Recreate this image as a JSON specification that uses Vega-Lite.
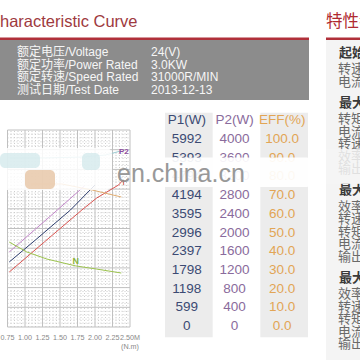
{
"$schema": "https://vega.github.io/schema/vega-lite/v6.json",
"width": 360, "height": 360, "autosize": "none", "padding": 0,
"background": "white",
"config": {"view": {"stroke": null}, "font": "Liberation Sans"},
"datasets": {
 "vmaj": [{"t":0.75},{"t":1},{"t":1.25},{"t":1.5},{"t":1.75},{"t":2},{"t":2.25},{"t":2.5}],
 "vmin": [{"t":0.8},{"t":0.85},{"t":0.9},{"t":0.95},{"t":1.05},{"t":1.1},{"t":1.15},{"t":1.2},{"t":1.3},{"t":1.35},{"t":1.4},{"t":1.45},{"t":1.55},{"t":1.6},{"t":1.65},{"t":1.7},{"t":1.8},{"t":1.85},{"t":1.9},{"t":1.95},{"t":2.05},{"t":2.1},{"t":2.15},{"t":2.2},{"t":2.3},{"t":2.35},{"t":2.4},{"t":2.45}],
 "hmaj": [{"v":0},{"v":1},{"v":2},{"v":3},{"v":4},{"v":5},{"v":6},{"v":7},{"v":8},{"v":9},{"v":10}],
 "hmin": [{"v":0.2},{"v":0.4},{"v":0.6},{"v":0.8},{"v":1.2},{"v":1.4},{"v":1.6},{"v":1.8},{"v":2.2},{"v":2.4},{"v":2.6},{"v":2.8},{"v":3.2},{"v":3.4},{"v":3.6},{"v":3.8},{"v":4.2},{"v":4.4},{"v":4.6},{"v":4.8},{"v":5.2},{"v":5.4},{"v":5.6},{"v":5.8},{"v":6.2},{"v":6.4},{"v":6.6},{"v":6.8},{"v":7.2},{"v":7.4},{"v":7.6},{"v":7.8},{"v":8.2},{"v":8.4},{"v":8.6},{"v":8.8},{"v":9.2},{"v":9.4},{"v":9.6},{"v":9.8}],
 "curves": [
  {"series":"P2","t":0.775,"v":8.58},{"series":"P2","t":1.275,"v":8.58},{"series":"P2","t":1.8375,"v":8.63},{"series":"P2","t":2.15,"v":8.73},{"series":"P2","t":2.3625,"v":8.93},
  {"series":"P1","t":0.775,"v":3.81},{"series":"P1","t":1.15,"v":4.97},{"series":"P1","t":1.4625,"v":5.94},{"series":"P1","t":1.85,"v":7.16},
  {"series":"T","t":0.775,"v":3.3},{"series":"T","t":1.15,"v":4.42},{"series":"T","t":1.65,"v":5.94},{"series":"T","t":2.0,"v":7.21},
  {"series":"I","t":0.775,"v":2.79},{"series":"I","t":1.275,"v":4.31},{"series":"I","t":1.8125,"v":5.94},{"series":"I","t":2.025,"v":6.55},{"series":"I","t":2.3375,"v":7.21},{"series":"I","t":2.4,"v":7.46},
  {"series":"N","t":0.775,"v":4.31},{"series":"N","t":1.025,"v":3.81},{"series":"N","t":1.3125,"v":3.45},{"series":"N","t":1.725,"v":3.1},{"series":"N","t":2.025,"v":2.94},{"series":"N","t":2.375,"v":2.74},
  {"series":"EFF","t":1.0875,"v":7.26},{"series":"EFF","t":1.525,"v":7.26},{"series":"EFF","t":1.9625,"v":6.95},{"series":"EFF","t":2.375,"v":6.6}
 ],
 "table": [
  {"P1(W)":5992,"P2(W)":4000,"EFF(%)":100},
  {"P1(W)":5393,"P2(W)":3600,"EFF(%)":90},
  {"P1(W)":4794,"P2(W)":3200,"EFF(%)":80},
  {"P1(W)":4194,"P2(W)":2800,"EFF(%)":70},
  {"P1(W)":3595,"P2(W)":2400,"EFF(%)":60},
  {"P1(W)":2996,"P2(W)":2000,"EFF(%)":50},
  {"P1(W)":2397,"P2(W)":1600,"EFF(%)":40},
  {"P1(W)":1798,"P2(W)":1200,"EFF(%)":30},
  {"P1(W)":1198,"P2(W)":800,"EFF(%)":20},
  {"P1(W)":599,"P2(W)":400,"EFF(%)":10},
  {"P1(W)":0,"P2(W)":0,"EFF(%)":0}
 ],
 "features": [
  {"line":0,"kind":"heading","text":"起始点"},
  {"line":1,"kind":"item","text":"转速"},
  {"line":2,"kind":"item","text":"电流"},
  {"line":4,"kind":"heading","text":"最大"},
  {"line":5,"kind":"item","text":"转矩"},
  {"line":6,"kind":"item","text":"电流"},
  {"line":7,"kind":"item","text":"转速"},
  {"line":8,"kind":"item","text":"效率"},
  {"line":9,"kind":"item","text":"输出"},
  {"line":11,"kind":"heading","text":"最大"},
  {"line":12,"kind":"item","text":"效率"},
  {"line":13,"kind":"item","text":"转速"},
  {"line":14,"kind":"item","text":"转矩"},
  {"line":15,"kind":"item","text":"电流"},
  {"line":16,"kind":"item","text":"输出"},
  {"line":18,"kind":"heading","text":"最大"},
  {"line":19,"kind":"item","text":"效率"},
  {"line":20,"kind":"item","text":"转速"},
  {"line":21,"kind":"item","text":"转矩"},
  {"line":22,"kind":"item","text":"电流"},
  {"line":23,"kind":"item","text":"输出"}
 ]
},
"resolve": {"scale": {"x": "independent", "y": "independent", "color": "independent"}, "axis": {"x": "independent", "y": "independent"}},
"layer": [
 {
  "data": {"values": [{}]},
  "layer": [
   {"mark": {"type": "rect", "color": "#f4f4f4"},
    "encoding": {"x": {"datum": 326, "type": "quantitative", "scale": {"domain": [0,360], "range": [0,360]}, "axis": null}, "x2": {"datum": 360},
                 "y": {"datum": 40, "type": "quantitative", "scale": {"domain": [0,360], "range": [0,360]}, "axis": null}, "y2": {"datum": 360}}},
   {"mark": {"type": "rect", "color": "#8c8c8c"},
    "encoding": {"x": {"datum": 0, "type": "quantitative", "scale": {"domain": [0,360], "range": [0,360]}, "axis": null}, "x2": {"datum": 309},
                 "y": {"datum": 40, "type": "quantitative", "scale": {"domain": [0,360], "range": [0,360]}, "axis": null}, "y2": {"datum": 100}}},
   {"mark": {"type": "rect", "color": "#b0303a"},
    "encoding": {"x": {"datum": 0, "type": "quantitative", "scale": {"domain": [0,360], "range": [0,360]}, "axis": null}, "x2": {"datum": 309},
                 "y": {"datum": 37.5, "type": "quantitative", "scale": {"domain": [0,360], "range": [0,360]}, "axis": null}, "y2": {"datum": 40}}},
   {"mark": {"type": "rect", "color": "#b0303a"},
    "encoding": {"x": {"datum": 326, "type": "quantitative", "scale": {"domain": [0,360], "range": [0,360]}, "axis": null}, "x2": {"datum": 360},
                 "y": {"datum": 37.5, "type": "quantitative", "scale": {"domain": [0,360], "range": [0,360]}, "axis": null}, "y2": {"datum": 40}}}
  ]
 },
 {
  "layer": [
   {"data": {"name": "vmin"}, "mark": {"type": "rule", "stroke": "#cdcdcd", "strokeWidth": 1, "strokeDash": [1,2]},
    "encoding": {"x": {"field": "t", "type": "quantitative", "scale": {"domain": [0.75,2.5], "range": [-3,137]}, "axis": null},
                 "y": {"datum": 0, "type": "quantitative", "scale": {"domain": [0,10], "range": [327,130]}, "axis": null}, "y2": {"datum": 10}}},
   {"data": {"name": "hmin"}, "mark": {"type": "rule", "stroke": "#cdcdcd", "strokeWidth": 1, "strokeDash": [1,2]},
    "encoding": {"y": {"field": "v", "type": "quantitative", "axis": null}, "x": {"datum": 0.75, "type": "quantitative", "axis": null}, "x2": {"datum": 2.5}}},
   {"data": {"name": "vmaj"}, "mark": {"type": "rule", "stroke": "#c0c0c0", "strokeWidth": 1},
    "encoding": {"x": {"field": "t", "type": "quantitative", "axis": null}, "y": {"datum": 0, "type": "quantitative", "axis": null}, "y2": {"datum": 10}}},
   {"data": {"name": "hmaj"}, "mark": {"type": "rule", "stroke": "#c0c0c0", "strokeWidth": 1},
    "encoding": {"y": {"field": "v", "type": "quantitative", "axis": null}, "x": {"datum": 0.75, "type": "quantitative", "axis": null}, "x2": {"datum": 2.5}}},
   {"data": {"name": "curves"}, "mark": {"type": "line", "strokeWidth": 1},
    "encoding": {"x": {"field": "t", "type": "quantitative", "axis": null}, "y": {"field": "v", "type": "quantitative", "axis": null},
                 "color": {"field": "series", "type": "nominal", "scale": {"domain": ["P2","P1","T","I","N","EFF"], "range": ["#9fcdd4","#c286c9","#2f3f6f","#d9534f","#9cc34e","#e1ad72"]}, "legend": null}}},
   {"data": {"name": "vmaj"},
    "transform": [{"calculate": "datum.t == 2.5 ? '2.50M' : format(datum.t, '.2f')", "as": "lab"}],
    "mark": {"type": "text", "fontSize": 7.2, "color": "#888888", "baseline": "middle"},
    "encoding": {"x": {"field": "t", "type": "quantitative", "axis": null}, "y": {"datum": -0.55, "type": "quantitative", "axis": null}, "text": {"field": "lab"}}},
   {"data": {"values": [{"unit": "(N.m)"}]}, "mark": {"type": "text", "fontSize": 7.2, "color": "#888888", "baseline": "middle"},
    "encoding": {"x": {"datum": 2.5, "type": "quantitative", "axis": null}, "y": {"datum": -1.02, "type": "quantitative", "axis": null}, "text": {"field": "unit"}}},
   {"data": {"values": [{"label": "P2"}]}, "mark": {"type": "text", "fontSize": 8, "fontWeight": "bold", "color": "#8e4fa0", "baseline": "middle"},
    "encoding": {"x": {"datum": 2.4125, "type": "quantitative", "axis": null}, "y": {"datum": 8.88, "type": "quantitative", "axis": null}, "text": {"field": "label"}}},
   {"data": {"values": [{"label": "I"}]}, "mark": {"type": "text", "fontSize": 8, "color": "#c0392b", "baseline": "middle"},
    "encoding": {"x": {"datum": 2.41, "type": "quantitative", "axis": null}, "y": {"datum": 7.3, "type": "quantitative", "axis": null}, "text": {"field": "label"}}},
   {"data": {"values": [{"label": "N"}]}, "mark": {"type": "text", "fontSize": 9, "fontWeight": "bold", "color": "#8cb43c", "baseline": "middle"},
    "encoding": {"x": {"datum": 1.725, "type": "quantitative", "axis": null}, "y": {"datum": 3.35, "type": "quantitative", "axis": null}, "text": {"field": "label"}}}
  ]
 },
 {
  "data": {"name": "table"},
  "transform": [
   {"fold": ["P1(W)","P2(W)","EFF(%)"], "as": ["col","num"]},
   {"calculate": "datum.col == 'EFF(%)' ? format(datum.num, '.1f') : format(datum.num, 'd')", "as": "txt"}
  ],
  "layer": [
   {"transform": [{"filter": "datum['EFF(%)'] == 100 && datum.col != 'P2(W)'"}],
    "mark": {"type": "rect", "color": "#ececec"},
    "encoding": {"x": {"field": "col", "type": "nominal", "scale": {"type": "band", "domain": ["P1(W)","P2(W)","EFF(%)"], "range": [165,308], "paddingInner": 0, "paddingOuter": 0}, "axis": null},
                 "y": {"datum": 114, "type": "quantitative", "scale": {"domain": [100,0], "range": [139,326]}, "axis": null}, "y2": {"datum": -6}}},
   {"transform": [{"filter": "datum['EFF(%)'] == 100"}],
    "mark": {"type": "text", "fontSize": 13.5, "baseline": "middle", "dx": -2},
    "encoding": {"x": {"field": "col", "type": "nominal", "axis": null}, "y": {"datum": 110, "type": "quantitative", "axis": null}, "text": {"field": "col"},
                 "color": {"field": "col", "type": "nominal", "scale": {"domain": ["P1(W)","P2(W)","EFF(%)"], "range": ["#3b4a73","#8a6b9c","#e2a555"]}, "legend": null}}},
   {"mark": {"type": "text", "fontSize": 13.5, "baseline": "middle", "dx": -2},
    "encoding": {"x": {"field": "col", "type": "nominal", "axis": null}, "y": {"field": "EFF(%)", "type": "quantitative", "axis": null}, "text": {"field": "txt"},
                 "color": {"field": "col", "type": "nominal", "legend": null}}}
  ]
 },
 {
  "data": {"name": "features"},
  "encoding": {"x": {"field": "kind", "type": "nominal", "scale": {"type": "point", "domain": ["heading","item"], "range": [339,338], "padding": 0}, "axis": null},
               "y": {"field": "line", "type": "quantitative", "scale": {"domain": [0,23], "range": [56.5,344]}, "axis": null},
               "text": {"field": "text"}},
  "layer": [
   {"transform": [{"filter": "datum.kind == 'heading'"}], "mark": {"type": "text", "align": "left", "baseline": "middle", "fontSize": 13, "fontWeight": "bold", "color": "#3a3a3a", "dy": -4, "font": "Liberation Sans, Noto Sans CJK SC"}},
   {"transform": [{"filter": "datum.kind == 'item'"}], "mark": {"type": "text", "align": "left", "baseline": "middle", "fontSize": 13, "color": "#6a6a6a", "font": "Liberation Sans, Noto Sans CJK SC"}}
  ]
 },
 {
  "data": {"values": [
   {"label": "额定电压/Voltage", "value": "24(V)"},
   {"label": "额定功率/Power Rated", "value": "3.0KW"},
   {"label": "额定转速/Speed Rated", "value": "31000R/MIN"},
   {"label": "测试日期/Test Date", "value": "2013-12-13"}
  ]},
  "transform": [{"fold": ["label","value"], "as": ["col","text"]}],
  "mark": {"type": "text", "align": "left", "baseline": "middle", "fontSize": 12, "color": "#f6f6f6", "font": "Liberation Sans, Noto Sans CJK SC"},
  "encoding": {
   "x": {"field": "col", "type": "nominal", "scale": {"type": "point", "domain": ["label","value"], "range": [17,151], "padding": 0}, "axis": null},
   "y": {"field": "label", "type": "nominal", "scale": {"type": "point", "domain": ["额定电压/Voltage","额定功率/Power Rated","额定转速/Speed Rated","测试日期/Test Date"], "range": [52,90], "padding": 0}, "axis": null},
   "text": {"field": "text"}
  }
 },
 {
  "data": {"values": [
   {"part": "curve", "heading": "haracteristic Curve"},
   {"part": "feature", "heading": "特性参数"}
  ]},
  "mark": {"type": "text", "align": "left", "baseline": "alphabetic", "fontSize": 16.5, "font": "Liberation Sans, Noto Sans CJK SC"},
  "encoding": {
   "x": {"field": "part", "type": "nominal", "scale": {"type": "point", "domain": ["curve","feature"], "range": [0,326], "padding": 0}, "axis": null},
   "y": {"field": "part", "type": "nominal", "scale": {"type": "point", "domain": ["curve","feature"], "range": [27,27], "padding": 0}, "axis": null},
   "color": {"field": "part", "type": "nominal", "scale": {"domain": ["curve","feature"], "range": ["#9e3a40","#b02a31"]}, "legend": null},
   "text": {"field": "heading"}
  }
 },
 {
  "data": {"values": [{"mark": "en.china.cn"}]},
  "layer": [
   {"mark": {"type": "rect", "color": "white", "opacity": 0.85, "cornerRadius": 6},
    "encoding": {"x": {"datum": 0, "type": "quantitative", "scale": {"domain": [0,360], "range": [0,360]}, "axis": null}, "x2": {"datum": 112},
                 "y": {"datum": 148, "type": "quantitative", "scale": {"domain": [0,360], "range": [0,360]}, "axis": null}, "y2": {"datum": 190}}},
   {"mark": {"type": "rect", "color": "#cfe7ea", "opacity": 0.7, "cornerRadius": 5},
    "encoding": {"x": {"datum": 0, "type": "quantitative", "scale": {"domain": [0,360], "range": [0,360]}, "axis": null}, "x2": {"datum": 40},
                 "y": {"datum": 153, "type": "quantitative", "scale": {"domain": [0,360], "range": [0,360]}, "axis": null}, "y2": {"datum": 168}}},
   {"mark": {"type": "rect", "color": "#cfe7ea", "opacity": 0.7, "cornerRadius": 5},
    "encoding": {"x": {"datum": 82, "type": "quantitative", "scale": {"domain": [0,360], "range": [0,360]}, "axis": null}, "x2": {"datum": 100},
                 "y": {"datum": 153, "type": "quantitative", "scale": {"domain": [0,360], "range": [0,360]}, "axis": null}, "y2": {"datum": 170}}},
   {"mark": {"type": "rect", "color": "#e6c4a4", "opacity": 0.8, "cornerRadius": 5},
    "encoding": {"x": {"datum": 25, "type": "quantitative", "scale": {"domain": [0,360], "range": [0,360]}, "axis": null}, "x2": {"datum": 55},
                 "y": {"datum": 170, "type": "quantitative", "scale": {"domain": [0,360], "range": [0,360]}, "axis": null}, "y2": {"datum": 189}}},
   {"mark": {"type": "rect", "color": "white", "opacity": 0.92, "cornerRadius": 6},
    "encoding": {"x": {"datum": 148, "type": "quantitative", "scale": {"domain": [0,360], "range": [0,360]}, "axis": null}, "x2": {"datum": 312},
                 "y": {"datum": 157.5, "type": "quantitative", "scale": {"domain": [0,360], "range": [0,360]}, "axis": null}, "y2": {"datum": 187}}},
   {"mark": {"type": "rect", "color": "#f4f4f4", "opacity": 0.85},
    "encoding": {"x": {"datum": 326, "type": "quantitative", "scale": {"domain": [0,360], "range": [0,360]}, "axis": null}, "x2": {"datum": 360},
                 "y": {"datum": 149, "type": "quantitative", "scale": {"domain": [0,360], "range": [0,360]}, "axis": null}, "y2": {"datum": 184}}},
   {"mark": {"type": "text", "align": "left", "baseline": "alphabetic", "fontSize": 25, "color": "#8e8e8e", "opacity": 0.9},
    "encoding": {"x": {"datum": 117, "type": "quantitative", "scale": {"domain": [0,360], "range": [0,360]}, "axis": null},
                 "y": {"datum": 182, "type": "quantitative", "scale": {"domain": [0,360], "range": [0,360]}, "axis": null}, "text": {"field": "mark"}}}
  ]
 }
]
}
